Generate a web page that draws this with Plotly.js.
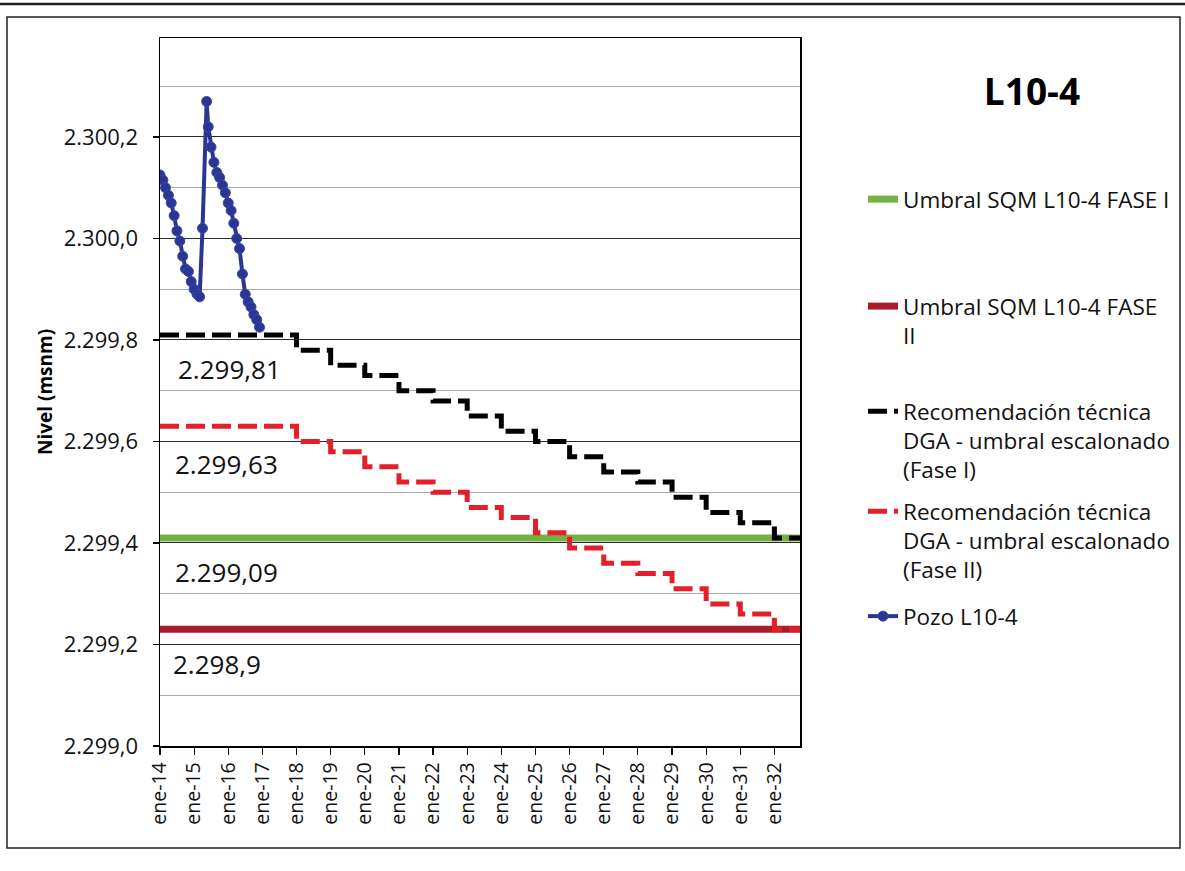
<!DOCTYPE html>
<html>
<head>
<meta charset="utf-8">
<script src="https://cdn.plot.ly/plotly-3.0.1.min.js"></script>
<style>html,body{margin:0;padding:0;background:#fff;}</style>
</head>
<body>
<div id="chart" style="width:1185px;height:871px;"></div>
<script>
// ---- data ----
const tickDates = ['2014-01-01','2015-01-01','2016-01-01','2017-01-01','2018-01-01','2019-01-01','2020-01-01','2021-01-01','2022-01-01','2023-01-01','2024-01-01','2025-01-01','2026-01-01','2027-01-01','2028-01-01','2029-01-01','2030-01-01','2031-01-01','2032-01-01'];
const tickLabels = ['ene-14','ene-15','ene-16','ene-17','ene-18','ene-19','ene-20','ene-21','ene-22','ene-23','ene-24','ene-25','ene-26','ene-27','ene-28','ene-29','ene-30','ene-31','ene-32'];

const umbralDates = ['2014-01-01','2032-10-01'];
const umbralFase1 = [2299.41, 2299.41];
const umbralFase2 = [2299.23, 2299.23];

const stepDates = ['2014-01-01','2018-01-01','2019-01-01','2020-01-01','2021-01-01','2022-01-01','2023-01-01','2024-01-01','2025-01-01','2026-01-01','2027-01-01','2028-01-01','2029-01-01','2030-01-01','2031-01-01','2032-01-01','2032-10-01'];
const dgaFase1 = [2299.81,2299.78,2299.75,2299.73,2299.70,2299.68,2299.65,2299.62,2299.60,2299.57,2299.54,2299.52,2299.49,2299.46,2299.44,2299.41,2299.41];
const dgaFase2 = [2299.63,2299.60,2299.58,2299.55,2299.52,2299.50,2299.47,2299.45,2299.42,2299.39,2299.36,2299.34,2299.31,2299.28,2299.26,2299.23,2299.23];

const pozoDates = ['2014-01-01','2014-02-01','2014-03-01','2014-04-01','2014-05-01','2014-06-01','2014-07-01','2014-08-01','2014-09-01','2014-10-01','2014-11-01','2014-12-01',
                   '2015-01-01','2015-02-01','2015-03-01','2015-04-01','2015-05-15','2015-06-01','2015-07-01','2015-08-01','2015-09-01','2015-10-01','2015-11-01','2015-12-01',
                   '2016-01-01','2016-02-01','2016-03-01','2016-04-01','2016-05-01','2016-06-01','2016-07-01','2016-08-01','2016-09-01','2016-10-01','2016-11-01','2016-12-01'];
const pozoVals = [2300.125,2300.115,2300.100,2300.085,2300.070,2300.045,2300.015,2299.995,2299.965,2299.940,2299.935,2299.915,
                  2299.900,2299.890,2299.885,2300.020,2300.270,2300.220,2300.180,2300.150,2300.130,2300.120,2300.105,2300.090,
                  2300.070,2300.055,2300.030,2300.000,2299.980,2299.930,2299.890,2299.875,2299.865,2299.850,2299.840,2299.825];

const seriesNames = ['Umbral SQM L10-4 FASE I','Umbral SQM L10-4 FASE<br>II','Recomendación técnica<br>DGA - umbral escalonado<br>(Fase I)','Recomendación técnica<br>DGA - umbral escalonado<br>(Fase II)','Pozo L10-4'];
const labelTexts = ['2.299,81','2.299,63','2.299,09','2.298,9'];
const chartTitle = 'L10-4';

// ---- geometry helpers (plot area in px) ----
const W = 1185, H = 871;
const L = 160, R = 800, T = 38, B = 746;
const px2x = p => (p - L) / (R - L);
const py2y = p => (B - p) / (B - T);

const FONT = 'Open Sans, Noto Sans, sans-serif';

const traces = [
  {x: umbralDates, y: umbralFase1, name: seriesNames[0], mode: 'lines', line: {color: '#74B044', width: 7}, legend: 'legend'},
  {x: umbralDates, y: umbralFase2, name: seriesNames[1], mode: 'lines', line: {color: '#A91C2B', width: 7}, legend: 'legend2'},
  {x: stepDates, y: dgaFase1, name: seriesNames[2], mode: 'lines', line: {color: '#000000', width: 5, dash: '19px,7px', shape: 'hv'}, legend: 'legend3'},
  {x: stepDates, y: dgaFase2, name: seriesNames[3], mode: 'lines', line: {color: '#E3202A', width: 5, dash: '19px,7px', shape: 'hv'}, legend: 'legend4'},
  {x: pozoDates, y: pozoVals, name: seriesNames[4], mode: 'lines+markers', line: {color: '#2B3693', width: 4}, marker: {color: '#2B3693', size: 10, line: {color: '#3A48A8', width: 1}}, legend: 'legend5'}
];

function leg(topPx) {
  return {x: px2x(863), xanchor: 'left', y: py2y(topPx), yanchor: 'top', bgcolor: 'rgba(0,0,0,0)',
          font: {family: FONT, size: 22.5, color: '#111'}, valign: 'top', borderwidth: 0};
}

const annotations = [
  {text: labelTexts[0], x: px2x(176), y: py2y(369)},
  {text: labelTexts[1], x: px2x(173), y: py2y(464)},
  {text: labelTexts[2], x: px2x(173), y: py2y(572)},
  {text: labelTexts[3], x: px2x(171), y: py2y(664)}
].map(a => Object.assign({xref: 'paper', yref: 'paper', xanchor: 'left', yanchor: 'middle', showarrow: false,
                          font: {family: FONT, size: 26, color: '#111'}}, a));

const layout = {
  width: W, height: H,
  margin: {l: L, r: W - R, t: T, b: H - B, autoexpand: false},
  paper_bgcolor: '#ffffff', plot_bgcolor: '#ffffff',
  separators: ',.',
  font: {family: FONT, color: '#111'},
  showlegend: true,
  title: {text: '<b>' + chartTitle + '</b>', font: {family: FONT, size: 37, color: '#000'},
          xref: 'container', x: 1032 / W, xanchor: 'center', yref: 'container', y: 1 - 92 / H, yanchor: 'middle'},
  xaxis: {type: 'date', range: ['2014-01-01', '2032-10-01'], tickvals: tickDates, ticktext: tickLabels, tickangle: -90,
          ticks: 'outside', ticklen: 7, tickcolor: '#000', tickwidth: 1.2, showgrid: false, zeroline: false,
          showline: true, linecolor: '#000', linewidth: 1.5, mirror: true, automargin: false,
          tickfont: {family: FONT, size: 19.5, color: '#111'}},
  yaxis: {range: [2299.0, 2300.395], tick0: 2299.0, dtick: 0.2, tickformat: ',.1f', automargin: false,
          ticks: 'outside', ticklen: 6, tickcolor: '#000', tickwidth: 1.2, ticklabelstandoff: 10,
          showgrid: true, gridcolor: '#2a2a2a', gridwidth: 1, zeroline: false,
          minor: {tick0: 2299.0, dtick: 0.1, showgrid: true, gridcolor: '#a8a8a8', gridwidth: 1, ticks: ''},
          showline: true, linecolor: '#000', linewidth: 1.5, mirror: true,
          tickfont: {family: FONT, size: 22, color: '#111'},
          title: {text: '<b>Nivel (msnm)</b>', font: {family: FONT, size: 19, color: '#000'}, standoff: 6}},
  legend: leg(178),
  legend2: leg(285),
  legend3: leg(390),
  legend4: leg(490),
  legend5: leg(595),
  annotations: annotations,
  shapes: [
    {type: 'rect', xref: 'paper', yref: 'paper', x0: px2x(7), x1: px2x(1180), y0: py2y(17), y1: py2y(848), line: {color: '#222', width: 1.5}, layer: 'below'},
    {type: 'line', xref: 'paper', yref: 'paper', x0: px2x(0), x1: px2x(1185), y0: py2y(4), y1: py2y(4), line: {color: '#222', width: 2.5}}
  ]
};

Plotly.newPlot('chart', traces, layout, {displayModeBar: false, staticPlot: true});
</script>
</body>
</html>
